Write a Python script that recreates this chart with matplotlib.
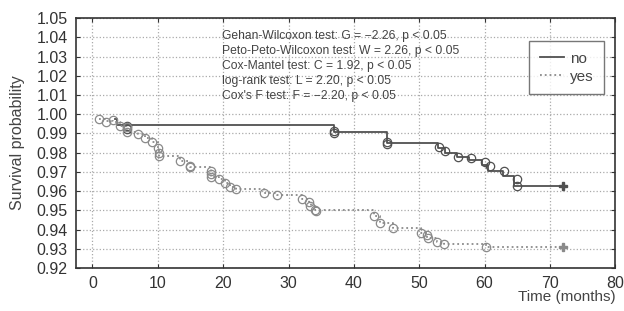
import matplotlib
matplotlib.use("Agg")
import matplotlib.pyplot as plt
from matplotlib.lines import Line2D

plt.rcParams['font.family'] = ['Liberation Sans', 'DejaVu Sans']

# 数据: 分组 "no" 的阶梯 (时间, 生存率)
no_t = [3.5, 3.8, 37.0, 45.0, 52.8, 54.0, 55.8, 57.6, 59.6, 60.6, 62.8, 64.5, 72.0]
no_s = [0.9973, 0.9945, 0.9905, 0.9850, 0.9823, 0.9797, 0.9775, 0.9762, 0.9735, 0.9705, 0.9677, 0.9625, 0.9625]
no_circ_t = [5.3, 5.3, 37.0, 37.0, 45.0, 45.0, 53.0, 54.0, 56.0, 58.0, 60.0, 60.8, 63.0, 65.0, 65.0]
no_circ_s = [0.9940, 0.9925, 0.9912, 0.9903, 0.9857, 0.9846, 0.9830, 0.9810, 0.9780, 0.9770, 0.9752, 0.9732, 0.9703, 0.9665, 0.9628]

# 分组 "yes"
yes_t = [1.0, 2.0, 3.2, 4.2, 5.3, 7.0, 8.0, 9.1, 10.1, 10.2, 13.4, 14.9, 18.1, 18.2, 19.3, 20.3,
         21.1, 22.0, 26.2, 28.2, 32.0, 33.1, 33.5, 34.1, 43.1, 44.0, 46.0, 50.2, 51.2, 52.7, 53.8, 60.2, 72.0]
yes_s = [0.9975, 0.9965, 0.9960, 0.9940, 0.9910, 0.9897, 0.9875, 0.9855, 0.9822, 0.9782, 0.9758, 0.9728,
         0.9705, 0.9672, 0.9661, 0.9642, 0.9622, 0.9612, 0.9590, 0.9580, 0.9557, 0.9545, 0.9522, 0.9502,
         0.9471, 0.9436, 0.9406, 0.9384, 0.9355, 0.9337, 0.9325, 0.9312, 0.9312]
yes_circ_t = [1.06, 2.1, 3.2, 4.2, 5.3, 5.35, 7.0, 8.05, 9.1, 10.1, 10.2, 10.2, 13.4, 14.9, 15.0, 18.1, 18.1,
              18.1, 19.3, 20.3, 21.1, 22.0, 26.2, 28.2, 32.0, 33.1, 33.3, 34.1, 34.2, 43.1, 44.0, 46.0,
              50.2, 51.2, 51.3, 52.7, 53.8, 60.2]
yes_circ_s = [0.9973, 0.9962, 0.9969, 0.9938, 0.9935, 0.9909, 0.9897, 0.9874, 0.9854, 0.9822, 0.9800,
              0.9782, 0.9758, 0.9730, 0.9725, 0.9706, 0.9690, 0.9672, 0.9661, 0.9640, 0.9620, 0.9610,
              0.9588, 0.9580, 0.9557, 0.9545, 0.9522, 0.9502, 0.9498, 0.9471, 0.9436, 0.9406, 0.9384,
              0.9372, 0.9355, 0.9337, 0.9325, 0.9310]

tests = ["Gehan-Wilcoxon test: G = \u22122.26, p < 0.05",
         "Peto-Peto-Wilcoxon test: W = 2.26, p < 0.05",
         "Cox-Mantel test: C = 1.92, p < 0.05",
         "log-rank test: L = 2.20, p < 0.05",
         "Cox's F test: F = \u22122.20, p < 0.05"]

yticks = [0.92, 0.93, 0.94, 0.95, 0.96, 0.97, 0.98, 0.99, 1.00, 1.01, 1.02, 1.03, 1.04, 1.05]
xticks = [0, 10, 20, 30, 40, 50, 60, 70, 80]

c_no = '#505050'
c_yes = '#8a8a8a'

fig = plt.figure(figsize=(6.24, 3.11), dpi=100)
ax = fig.add_axes([0.122, 0.138, 0.864, 0.804])

# 阶梯曲线
ax.step(no_t, no_s, where='post', color=c_no, lw=1.3, zorder=3)
ax.step(yes_t, yes_s, where='post', color=c_yes, lw=1.3, ls=':', zorder=3)
ax.plot(no_circ_t, no_circ_s, 'o', mfc='none', mec=c_no, ms=6, mew=0.9, zorder=4)
ax.plot(yes_circ_t, yes_circ_s, 'o', mfc='none', mec=c_yes, ms=6, mew=0.9, zorder=4)
ax.plot([no_t[-1]], [no_s[-1]], 'P', color=c_no, ms=6, zorder=5)
ax.plot([yes_t[-1]], [yes_s[-1]], 'P', color=c_yes, ms=6, zorder=5)

ax.set_xlim(-2.5, 80)
ax.set_ylim(0.92, 1.05)
ax.set_xticks(xticks)
ax.set_yticks(yticks)
ax.set_yticklabels(['%.2f' % v for v in yticks])
ax.tick_params(direction='in', top=True, right=True, labelsize=11.5, colors='#333333', length=3, pad=6)
ax.grid(True, ls=':', color='#aaaaaa', lw=0.9)
for s in ax.spines.values():
    s.set_color('#333333')
    s.set_linewidth(1.2)

ax.set_ylabel('Survival probability', fontsize=11.5, color='#444444', labelpad=8)
ax.text(1.0, -0.116, 'Time (months)', transform=ax.transAxes, ha='right', va='center',
        fontsize=11, color='#444444')

# 检验结果文本
for i, s in enumerate(tests):
    ax.text(19.8, 1.0405 - i * 0.0078, s, fontsize=8.7, color='#444444', va='center')

handles = [Line2D([], [], color=c_no, lw=1.3), Line2D([], [], color=c_yes, lw=1.3, ls=':')]
leg = ax.legend(handles, ['no', 'yes'], loc='upper right', bbox_to_anchor=(0.98, 0.908),
                borderaxespad=0, fontsize=11, fancybox=False, edgecolor='#555555', handlelength=1.6,
                handletextpad=0.4, borderpad=0.7, labelspacing=0.25, labelcolor='#444444')
leg.get_frame().set_linewidth(1.0)

fig.savefig('out.png', dpi=100)
